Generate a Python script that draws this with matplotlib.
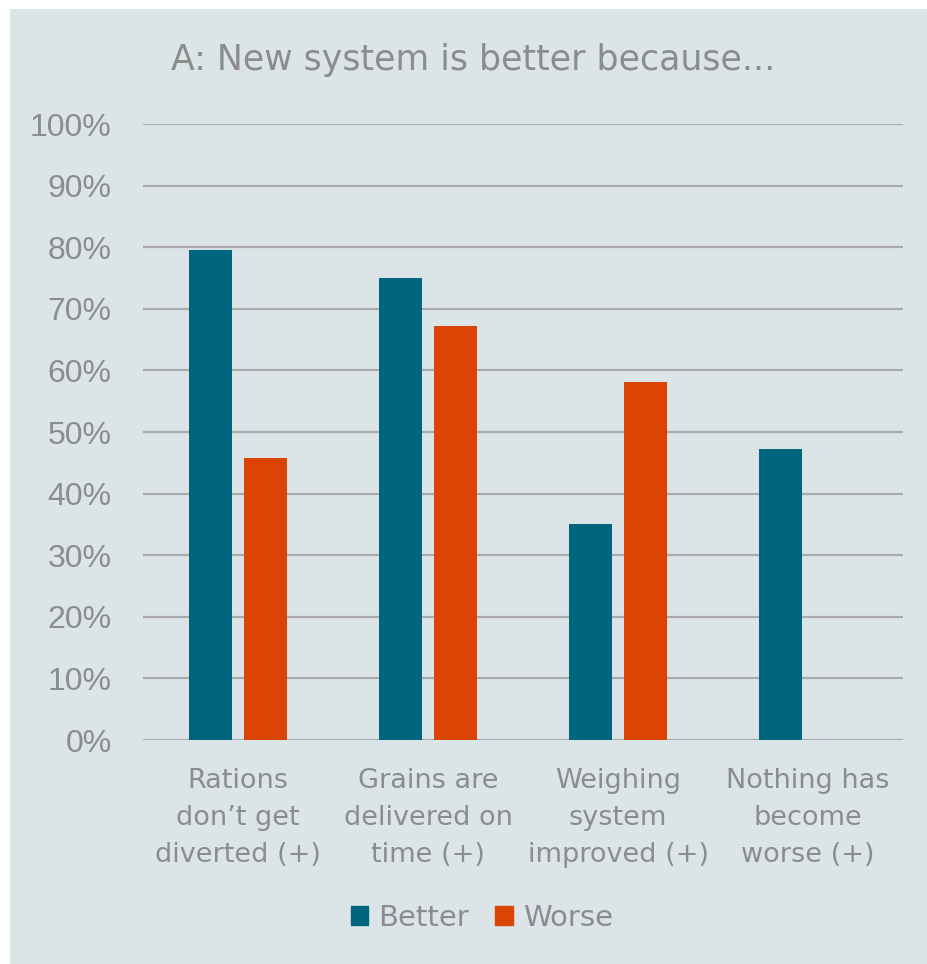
import numpy as np
import matplotlib.pyplot as plt
from matplotlib.patches import Rectangle, Patch

categories = ["Rations\ndon\u2019t get\ndiverted (+)", "Grains are\ndelivered on\ntime (+)",
              "Weighing\nsystem\nimproved (+)", "Nothing has\nbecome\nworse (+)"]
better = [79.5, 75.0, 35.1, 47.2]
worse = [45.8, 67.2, 58.1, np.nan]
yticks = [0, 10, 20, 30, 40, 50, 60, 70, 80, 90, 100]

teal = '#00667f'
orange = '#dc4405'
panel = '#dbe5e7'
textc = '#8c8c8c'
narrow = ['DejaVu Sans']

fig = plt.figure(figsize=(9.28, 9.64), dpi=100)
fig.patch.set_facecolor('white')
fig.patches.append(Rectangle((10/928, 0), 1, (964-9)/964, transform=fig.transFigure,
                             facecolor=panel, edgecolor='none', zorder=-10))

ax = fig.add_axes([143/928, (964-740)/964, 760/928, 616/964])
ax.set_facecolor('none')

x = np.arange(len(categories))
w = 0.226
ax.bar(x - 0.143, better, w, color=teal, label='Better', zorder=3)
ax.bar(x + 0.143, worse, w, color=orange, label='Worse', zorder=3)

ax.set_xlim(-0.5, 3.5)
ax.set_ylim(0, 100)
ax.set_yticks(yticks)
ax.set_yticklabels([f'{v}%' for v in yticks], fontsize=23, color=textc,
                   family='Liberation Sans')
ax.set_xticks(x)
ax.set_xticklabels(categories, fontsize=19.5, color=textc, family=narrow, linespacing=1.56)
ax.tick_params(axis='both', length=0)
ax.tick_params(axis='x', pad=20)
ax.tick_params(axis='y', pad=22.5)
ax.grid(axis='y', color='#aaaaaa', linewidth=1.6, zorder=0)
for s in ax.spines.values():
    s.set_visible(False)

fig.text(473/928, 1 - 60/964, 'A: New system is better because...', ha='center', va='center',
         fontsize=25, color=textc, family=narrow)

handles = [Patch(color=teal, label='Better'), Patch(color=orange, label='Worse')]
leg = fig.legend(handles=handles, loc='center', bbox_to_anchor=(482/928, 1 - 918/964), ncol=2,
                 frameon=False, handlelength=0.6, handleheight=0.6, handletextpad=0.35,
                 columnspacing=0.9, prop={'family': narrow, 'size': 21})
for t in leg.get_texts():
    t.set_color(textc)

fig.savefig('out.png', dpi=100, facecolor='white')
